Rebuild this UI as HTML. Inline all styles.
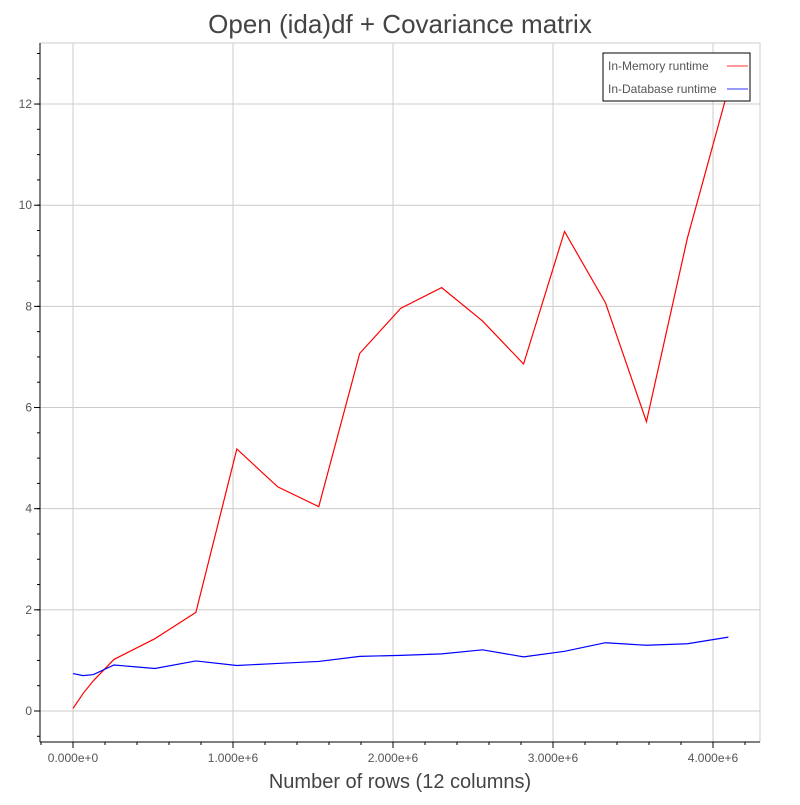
<!DOCTYPE html>
<html><head><meta charset="utf-8"><style>
body{margin:0;background:#fff;font-family:"Liberation Sans",sans-serif}
text{font-family:"Liberation Sans",sans-serif}
</style></head><body>
<svg id="chart" width="800" height="800" xmlns="http://www.w3.org/2000/svg">
<text x="400" y="33" text-anchor="middle" font-size="26" fill="#444">Open (ida)df + Covariance matrix</text>
<g id="grid"></g><g id="axes"></g><g id="series"></g>
<text x="400" y="788" text-anchor="middle" font-size="20" fill="#444">Number of rows (12 columns)</text>
<g>
<rect x="603" y="53" width="147" height="48" fill="#fff" stroke="#000" stroke-width="1"/>
<text x="608" y="70" font-size="12" fill="#555">In-Memory runtime</text>
<line x1="727" y1="66" x2="748" y2="66" stroke="#f77" stroke-width="1.5"/>
<text x="608" y="93" font-size="12" fill="#555">In-Database runtime</text>
<line x1="727" y1="89" x2="748" y2="89" stroke="#77f" stroke-width="1.5"/>
</g>
</svg>
<script>
const xValues=[0,64000,128000,256000,512000,768000,1024000,1280000,1536000,1792000,2048000,2304000,2560000,2816000,3072000,3328000,3584000,3840000,4096000];
const memoryRuntime=[0.05,0.35,0.6,1.02,1.43,1.95,5.18,4.43,4.04,7.07,7.96,8.37,7.71,6.86,9.48,8.07,5.72,9.35,12.3];
const databaseRuntime=[0.74,0.7,0.72,0.91,0.84,0.99,0.9,0.94,0.98,1.08,1.1,1.13,1.21,1.07,1.18,1.35,1.3,1.33,1.46];
const xTicks=[0,1000000,2000000,3000000,4000000];
const xTickLabels=["0.000e+0","1.000e+6","2.000e+6","3.000e+6","4.000e+6"];
const yTicks=[0,2,4,6,8,10,12];
const NS="http://www.w3.org/2000/svg";
const L=40,R=760,T=43,B=742;
const X=v=>73+v*160/1e6;
const Y=v=>711-v*50.58;
function mk(tag,attrs,parent){const e=document.createElementNS(NS,tag);for(const k in attrs)e.setAttribute(k,attrs[k]);document.getElementById(parent).appendChild(e);return e;}
mk('rect',{x:L,y:T,width:R-L,height:B-T,fill:'none',stroke:'#ccc'},'grid');
xTicks.forEach((v,i)=>{
 const g=mk('line',{x1:X(v),x2:X(v),y1:T,y2:B,stroke:'#ccc'},'grid');
 
 
 const t=mk('text',{x:X(v),y:762,'text-anchor':'middle','font-size':12,fill:'#555'},'axes');
 t.textContent=xTickLabels[i];
 
 
 mk('line',{x1:X(v),x2:X(v),y1:B,y2:B+6,stroke:'#000'},'axes');
});
for(let v=-200000;v<=4300000;v+=200000){if(X(v)>=L&&X(v)<=R)mk('line',{x1:X(v),x2:X(v),y1:B,y2:B+3,stroke:'#000'},'axes');}
yTicks.forEach(v=>{
 const g=mk('line',{x1:L,x2:R,y1:Y(v),y2:Y(v),stroke:'#ccc'},'grid');
 
 
 const t=mk('text',{x:L-8,y:Y(v)+4,'text-anchor':'end','font-size':12,fill:'#555'},'axes');
 t.textContent=v;
 
 
 mk('line',{x1:L-6,x2:L,y1:Y(v),y2:Y(v),stroke:'#000'},'axes');
});
for(let v=-0.5;v<=13;v+=0.5){if(Y(v)>=T&&Y(v)<=B)mk('line',{x1:L-3,x2:L,y1:Y(v),y2:Y(v),stroke:'#000'},'axes');}
mk('line',{x1:L,x2:L,y1:T,y2:B,stroke:'#000'},'axes');
mk('line',{x1:L,x2:R,y1:B,y2:B,stroke:'#000'},'axes');
const pm=mk('polyline',{points:xValues.map((x,i)=>X(x)+','+Y(memoryRuntime[i])).join(' '),fill:'none',stroke:'#f00','stroke-width':1.2},'series');


const pd=mk('polyline',{points:xValues.map((x,i)=>X(x)+','+Y(databaseRuntime[i])).join(' '),fill:'none',stroke:'#00f','stroke-width':1.2},'series');


</script>
</body></html>
